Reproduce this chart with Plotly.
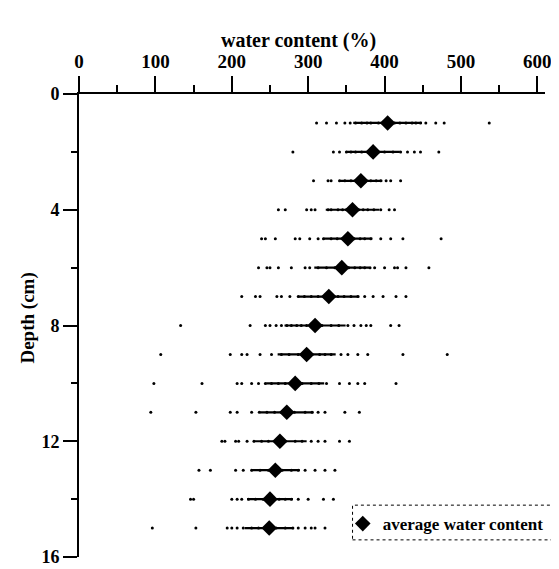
import plotly.graph_objects as go

depths = list(range(1, 16))
avg_water = [404, 385, 369, 358, 352, 344, 327, 309, 298, 283, 272, 263, 257, 250, 249]
sd_water = [45, 35, 28, 35, 32, 36, 40, 40, 38, 38, 35, 35, 32, 30, 32]

samples = [
    [311, 324, 337, 348, 355, 362, 370, 377, 382, 392, 398, 413, 420, 428, 436, 441, 447, 454, 467, 478, 537],
    [280, 333, 341, 350, 356, 362, 370, 378, 392, 400, 411, 421, 430, 439, 447, 471],
    [307, 326, 330, 341, 348, 356, 362, 376, 382, 389, 395, 402, 408, 421],
    [261, 270, 298, 304, 309, 326, 330, 339, 345, 350, 366, 372, 378, 386, 395, 406, 413],
    [239, 244, 257, 283, 289, 302, 313, 320, 330, 338, 345, 360, 368, 374, 382, 395, 408, 424, 474],
    [235, 246, 250, 261, 278, 296, 302, 313, 324, 335, 353, 361, 368, 374, 381, 387, 400, 413, 417, 428, 458],
    [213, 231, 237, 259, 265, 276, 287, 295, 304, 313, 322, 339, 347, 356, 365, 374, 385, 398, 415, 428],
    [133, 224, 244, 250, 258, 265, 272, 278, 285, 291, 298, 304, 318, 330, 340, 352, 360, 369, 376, 382, 408, 419],
    [107, 198, 213, 220, 237, 252, 265, 275, 287, 305, 315, 322, 330, 343, 352, 365, 378, 424, 482],
    [98, 161, 207, 213, 226, 235, 244, 252, 261, 270, 292, 304, 314, 324, 341, 354, 365, 374, 415],
    [94, 153, 198, 207, 226, 236, 246, 256, 265, 282, 296, 305, 313, 322, 348, 367],
    [187, 191, 205, 209, 220, 229, 239, 248, 257, 270, 283, 292, 304, 313, 322, 341, 354],
    [157, 172, 205, 215, 226, 237, 248, 266, 278, 287, 296, 309, 322, 335],
    [146, 150, 200, 207, 213, 222, 231, 241, 262, 270, 278, 287, 300, 320, 333],
    [96, 153, 194, 200, 207, 215, 226, 235, 244, 258, 270, 280, 287, 296, 304, 309, 322],
]

x_ticks = [0, 100, 200, 300, 400, 500, 600]
y_ticks = [0, 4, 8, 12, 16]
x_title = "water content (%)"
y_title = "Depth (cm)"

sx, sy = [], []
for d, row in zip(depths, samples):
    sx.extend(row)
    sy.extend([d] * len(row))

FONT = "Liberation Serif"

fig = go.Figure()
fig.add_trace(go.Scatter(
    x=sx, y=sy, mode="markers",
    marker=dict(symbol="circle", size=3, color="black"),
    showlegend=False, hoverinfo="skip",
))
fig.add_trace(go.Scatter(
    x=avg_water, y=depths, mode="markers",
    name="average water content",
    marker=dict(symbol="diamond", size=12, color="black"),
    error_x=dict(type="data", array=sd_water, visible=True, color="black", thickness=2.2, width=0),
))

# page body has an 8px margin, so the figure is sized/positioned to compensate
fig.update_layout(
    width=551, height=561,
    margin=dict(l=71, r=10, t=86, b=12),
    paper_bgcolor="white", plot_bgcolor="white",
    font=dict(family=FONT, color="black", size=19, weight="bold"),
    showlegend=True,
    legend=dict(
        x=0.566, y=0.11, xanchor="left", yanchor="top",
        bgcolor="rgba(0,0,0,0)", borderwidth=0,
        font=dict(family=FONT, size=17, weight="bold", color="black"),
        itemwidth=30,
    ),
    xaxis=dict(
        side="top", range=[0, 610], tickmode="array", tickvals=x_ticks,
        ticks="outside", ticklen=16, tickwidth=1.5, tickcolor="black",
        minor=dict(dtick=50, tick0=0, ticks="outside", ticklen=7, tickwidth=1.5, tickcolor="black", showgrid=False),
        showline=True, linewidth=2, linecolor="black",
        showgrid=False, zeroline=False, automargin=False,
        tickfont=dict(family=FONT, size=19, weight="bold"),
        ticklabelstandoff=0, ticklabeloverflow="allow",
    ),
    yaxis=dict(
        range=[16, 0], tickmode="array", tickvals=y_ticks,
        ticks="outside", ticklen=14, tickwidth=1.5, tickcolor="black",
        minor=dict(dtick=2, tick0=0, ticks="outside", ticklen=6, tickwidth=1.5, tickcolor="black", showgrid=False),
        showline=True, linewidth=2, linecolor="black",
        showgrid=False, zeroline=False, automargin=False,
        tickfont=dict(family=FONT, size=18, weight="bold"),
        ticklabeloverflow="allow",
    ),
    annotations=[
        dict(text=x_title, xref="paper", yref="paper", x=0.47, y=1,
             xanchor="center", yanchor="middle", yshift=54, showarrow=False,
             font=dict(family=FONT, size=20, weight="bold")),
        dict(text=y_title, xref="paper", yref="paper", x=0, y=0.515,
             xanchor="center", yanchor="middle", xshift=-51, textangle=-90, showarrow=False,
             font=dict(family=FONT, size=19, weight="bold")),
    ],
    shapes=[dict(
        type="rect", xref="paper", yref="paper",
        x0=0.587, x1=1.019, y0=0.037, y1=0.112,
        line=dict(color="black", width=1, dash="dot"),
    )],
)

fig.write_html("out.html")
